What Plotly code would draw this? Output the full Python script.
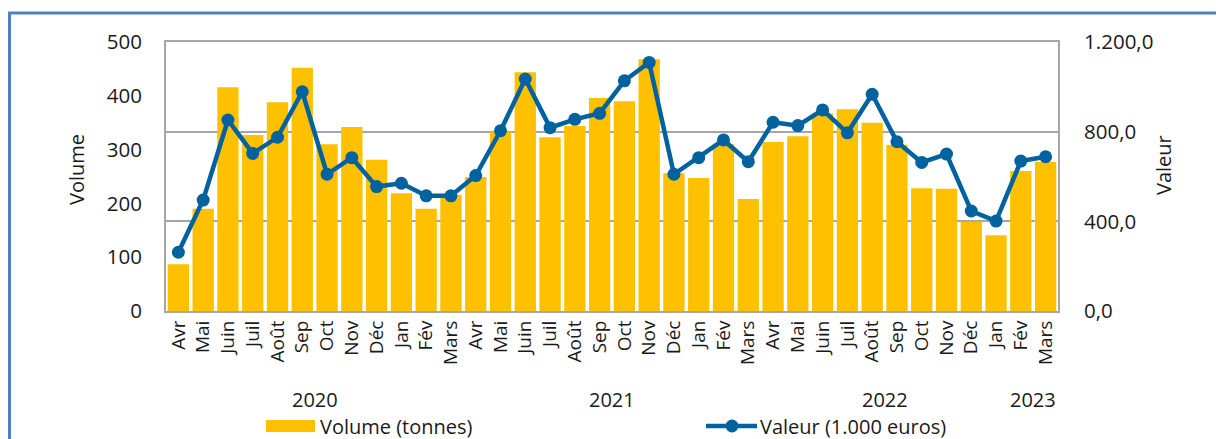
import plotly.graph_objects as go

months = ["Avr", "Mai", "Juin", "Juil", "Août", "Sep", "Oct", "Nov", "Déc",
          "Jan", "Fév", "Mars", "Avr", "Mai", "Juin", "Juil", "Août", "Sep", "Oct", "Nov", "Déc",
          "Jan", "Fév", "Mars", "Avr", "Mai", "Juin", "Juil", "Août", "Sep", "Oct", "Nov", "Déc",
          "Jan", "Fév", "Mars"]
volume = [87, 190, 416, 327, 388, 452, 310, 342, 281,
          219, 190, 216, 249, 333, 444, 323, 344, 396, 390, 468, 256,
          247, 310, 208, 314, 325, 367, 375, 350, 309, 228, 227, 166,
          141, 260, 277]
valeur = [262, 495, 852, 703, 775, 978, 610, 684, 555,
          570, 514, 514, 604, 804, 1035, 818, 855, 882, 1027, 1109, 610,
          684, 763, 666, 842, 827, 897, 795, 967, 755, 663, 700, 446,
          401, 669, 688]
years = ["2020", "2021", "2022", "2023"]
year_pos = [5.5, 17.5, 28.5, 34.5]

FONT = "Open Sans"
TXT = "#1a1a1a"
GRID = "#A6A6A6"
x = list(range(len(months)))

fig = go.Figure()
fig.add_trace(go.Bar(x=x, y=volume, name="Volume (tonnes)", marker_color="#FFC000",
                     marker_line_width=0, yaxis="y", showlegend=False))
fig.add_trace(go.Scatter(x=x, y=valeur, name="Valeur (1.000 euros)", mode="lines+markers",
                         line=dict(color="#00629F", width=4.5),
                         marker=dict(color="#00629F", size=13), yaxis="y2", showlegend=False))

OFF = 8  # page body margin
SX0, SX1, SY0, SY1 = 166, 1058, 42, 311
W, H = 1224 - OFF, 439 - OFF
L, T = SX0 - OFF, SY0 - OFF
R, B = W - (SX1 - OFF), H - (SY1 - OFF)
pw, ph = SX1 - SX0, SY1 - SY0

def px(xs):
    return (xs - SX0) / pw

def py(ys):
    return (SY1 - ys) / ph

LEG_Y = 426
shapes = [
    dict(type="rect", xref="paper", yref="paper", x0=px(9.5), x1=px(1240), y0=py(455), y1=py(13),
         line=dict(color="#4F81BD", width=3), fillcolor="rgba(0,0,0,0)", layer="below"),
    dict(type="rect", xref="paper", yref="paper", x0=px(266), x1=px(315), y0=py(LEG_Y + 6), y1=py(LEG_Y - 6),
         line=dict(width=0), fillcolor="#FFC000"),
    dict(type="line", xref="paper", yref="paper", x0=px(706), x1=px(757), y0=py(LEG_Y), y1=py(LEG_Y),
         line=dict(color="#00629F", width=4.5)),
    dict(type="circle", xref="paper", yref="paper", x0=px(725.5), x1=px(738.5), y0=py(LEG_Y + 6.5),
         y1=py(LEG_Y - 6.5), line=dict(width=0), fillcolor="#00629F"),
]

annotations = [
    dict(text="Volume (tonnes)", xref="paper", yref="paper", x=px(318), y=py(LEG_Y),
         xanchor="left", yanchor="middle", showarrow=False, font=dict(size=20, color=TXT, family=FONT)),
    dict(text="Valeur (1.000 euros)", xref="paper", yref="paper", x=px(758), y=py(LEG_Y),
         xanchor="left", yanchor="middle", showarrow=False, font=dict(size=20, color=TXT, family=FONT)),
    dict(text="Volume", xref="paper", yref="paper", x=px(76), y=py(170), textangle=-90,
         xanchor="center", yanchor="middle", showarrow=False, font=dict(size=20, color=TXT, family=FONT)),
    dict(text="Valeur", xref="paper", yref="paper", x=px(1163), y=py(165), textangle=-90,
         xanchor="center", yanchor="middle", showarrow=False, font=dict(size=20, color=TXT, family=FONT)),
]
for yr, pos in zip(years, year_pos):
    annotations.append(dict(text=yr, x=pos, xref="x", yref="paper", y=py(399),
                            xanchor="center", yanchor="middle", showarrow=False,
                            font=dict(size=20, color=TXT, family=FONT)))

fig.update_layout(
    width=W, height=H,
    margin=dict(l=L, r=R, t=T, b=B, autoexpand=False),
    paper_bgcolor="white", plot_bgcolor="white",
    separators=",.",
    bargap=0.14,
    font=dict(family=FONT, size=19, color=TXT),
    xaxis=dict(tickmode="array", tickvals=x, ticktext=months, tickangle=-90,
               range=[-0.5, len(months) - 0.5], showgrid=False, showline=True, mirror=True,
               linecolor=GRID, linewidth=2, ticks="", tickfont=dict(size=19, color=TXT, family=FONT)),
    yaxis=dict(range=[0, 500], dtick=100, showgrid=False, showline=True, linecolor=GRID, linewidth=2,
               ticks="", ticklabelstandoff=18, zeroline=False, tickfont=dict(size=20.5, color=TXT, family=FONT)),
    yaxis2=dict(range=[0, 1200], dtick=400, overlaying="y", side="right", tickformat=",.1f",
                showgrid=True, gridcolor=GRID, gridwidth=2, showline=True, linecolor=GRID, linewidth=2,
                ticks="", ticklabelstandoff=20, zeroline=False, tickfont=dict(size=20.5, color=TXT, family=FONT)),
    shapes=shapes, annotations=annotations,
)

fig.write_html("out.html")
